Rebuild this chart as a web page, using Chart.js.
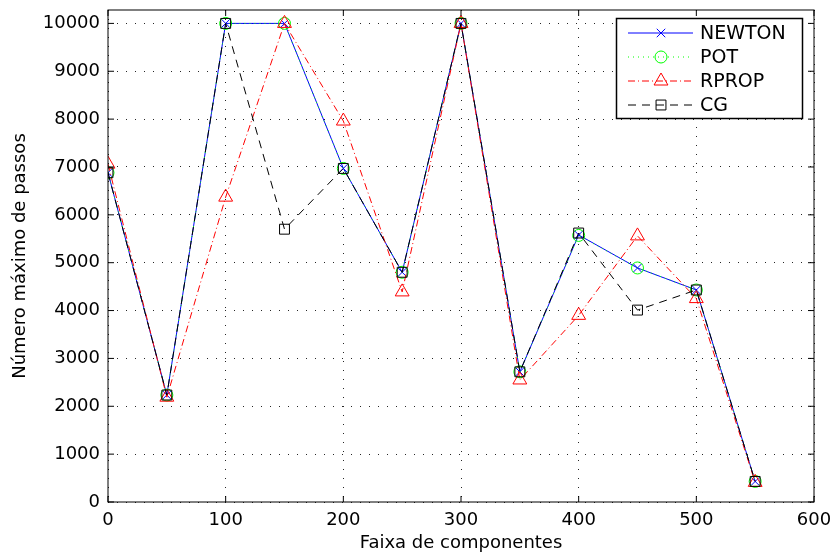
<!DOCTYPE html>
<html lang="pt">
<head>
<meta charset="utf-8">
<title>Número máximo de passos</title>
<script src="https://cdn.jsdelivr.net/npm/chart.js@4.4.1/dist/chart.umd.min.js"></script>
<style>
  html, body { margin: 0; padding: 0; background: #fff; }
</style>
</head>
<body>
<canvas class="js-steps-chart" width="834" height="556"></canvas>
<script>
// グラフのデータ
const xValues = [0, 50, 100, 150, 200, 250, 300, 350, 400, 450, 500, 550];
const newtonValues = [6880, 2235, 10000, 10000, 6970, 4800, 10000, 2720, 5580, 4890, 4430, 430];
const potValues = [6880, 2235, 10000, 10000, 6970, 4800, 10000, 2720, 5570, 4890, 4430, 430];
const rpropValues = [7060, 2190, 6370, 10000, 7960, 4390, 10000, 2550, 3900, 5560, 4250, 410];
const cgValues = [6880, 2235, 10000, 5700, 6970, 4800, 10000, 2720, 5620, 4010, 4430, 430];
const seriesLabels = ["NEWTON", "POT", "RPROP", "CG"];
const xTicks = [0, 100, 200, 300, 400, 500, 600];
const yTicks = [0, 1000, 2000, 3000, 4000, 5000, 6000, 7000, 8000, 9000, 10000];

window.addEventListener("DOMContentLoaded", () => {
  const FONT = "'DejaVu Sans', 'Liberation Sans', sans-serif";
  const toPoints = (values) => values.map((y, i) => ({ x: xValues[i], y }));

  // 枠線と内向きの目盛り (MATLAB風)
  const axesBox = {
    id: "axesBox",
    afterDatasetsDraw(chart) {
      const { ctx, chartArea, scales } = chart;
      const { left, right, top, bottom } = chartArea;
      ctx.save();
      ctx.strokeStyle = "#000";
      ctx.lineWidth = 1;
      ctx.setLineDash([]);
      ctx.strokeRect(left, top, right - left, bottom - top);
      ctx.beginPath();
      xTicks.forEach((v) => {
        const x = scales.x.getPixelForValue(v);
        ctx.moveTo(x, bottom);
        ctx.lineTo(x, bottom - 6);
        ctx.moveTo(x, top);
        ctx.lineTo(x, top + 6);
      });
      yTicks.forEach((v) => {
        const y = scales.y.getPixelForValue(v);
        ctx.moveTo(left, y);
        ctx.lineTo(left + 6, y);
        ctx.moveTo(right, y);
        ctx.lineTo(right - 6, y);
      });
      ctx.stroke();
      ctx.restore();
    },
  };

  // 凡例 (線とマーカー付きの枠)
  const legendBox = {
    id: "legendBox",
    afterDraw(chart) {
      const { ctx, chartArea } = chart;
      const w = 186;
      const h = 100;
      const left = Math.round(chartArea.right - 12 - w);
      const top = Math.round(chartArea.top + 8);
      ctx.save();
      ctx.fillStyle = "#fff";
      ctx.fillRect(left, top, w, h);
      ctx.strokeStyle = "#000";
      ctx.lineWidth = 1.5;
      ctx.strokeRect(left + 0.5, top + 0.5, w, h);

      chart.data.datasets.forEach((ds, i) => {
        const y = top + 15 + i * 24;
        ctx.lineWidth = 1;
        ctx.strokeStyle = ds.borderColor;
        ctx.setLineDash(ds.borderDash || []);
        ctx.beginPath();
        ctx.moveTo(left + 12, y);
        ctx.lineTo(left + 77, y);
        ctx.stroke();
        ctx.setLineDash([]);

        if (Chart.helpers && Chart.helpers.drawPoint) {
          ctx.fillStyle = "rgba(0,0,0,0)";
          ctx.strokeStyle = ds.pointBorderColor;
          Chart.helpers.drawPoint(ctx, { pointStyle: ds.pointStyle, radius: ds.pointRadius, borderWidth: 1, rotation: 0 }, left + 45, y);
        }

        ctx.fillStyle = "#000";
        ctx.font = `19px ${FONT}`;
        ctx.textBaseline = "middle";
        ctx.textAlign = "left";
        ctx.fillText(ds.label, left + 84, y + 1);
      });
      ctx.restore();
    },
  };

  const makeDataset = (label, values, color, dash, pointStyle, radius, order) => ({
    label,
    data: toPoints(values),
    borderColor: color,
    borderWidth: 1,
    borderDash: dash,
    pointStyle,
    pointRadius: radius,
    pointHoverRadius: radius,
    pointBorderColor: color,
    pointBackgroundColor: "rgba(0,0,0,0)",
    pointBorderWidth: 1,
    tension: 0,
    order,
  });

  const ctx = document.querySelector(".js-steps-chart").getContext("2d");

  new Chart(ctx, {
    type: "line",
    data: {
      datasets: [
        makeDataset(seriesLabels[0], newtonValues, "#0000ff", [], "crossRot", 6, 3),
        makeDataset(seriesLabels[1], potValues, "#00ff00", [1, 4], "circle", 6, 2),
        makeDataset(seriesLabels[2], rpropValues, "#ff0000", [7, 3, 1, 3], "triangle", 8, 1),
        makeDataset(seriesLabels[3], cgValues, "#000000", [8, 6], "rect", 7, 0),
      ],
    },
    options: {
      responsive: false,
      animation: false,
      devicePixelRatio: 1,
      layout: { padding: { left: 0, right: 20, top: 10, bottom: 0 } },
      plugins: {
        legend: { display: false },
        tooltip: { enabled: false },
      },
      scales: {
        x: {
          type: "linear",
          min: 0,
          max: 600,
          afterBuildTicks: (axis) => {
            axis.ticks = xTicks.map((value) => ({ value }));
          },
          afterFit: (scale) => {
            scale.height = 54;
            scale.paddingLeft = 0;
            scale.paddingRight = 0;
          },
          grid: { color: "rgba(0,0,0,0.85)", lineWidth: 1, drawTicks: false },
          border: { display: false, dash: [1, 8] },
          ticks: {
            color: "#000",
            font: { family: FONT, size: 18 },
            padding: 8,
            maxRotation: 0,
            autoSkip: false,
            callback: (value) => String(value),
          },
          title: {
            display: true,
            text: "Faixa de componentes",
            color: "#000",
            font: { family: FONT, size: 18 },
            padding: { top: 0, bottom: 2 },
          },
        },
        y: {
          type: "linear",
          min: 0,
          max: 10280,
          afterBuildTicks: (axis) => {
            axis.ticks = yTicks.map((value) => ({ value }));
          },
          afterFit: (scale) => {
            scale.width = 108;
            scale.paddingTop = 0;
            scale.paddingBottom = 0;
          },
          grid: { color: "rgba(0,0,0,0.85)", lineWidth: 1, drawTicks: false },
          border: { display: false, dash: [1, 8] },
          ticks: {
            color: "#000",
            font: { family: FONT, size: 18 },
            padding: 8,
            autoSkip: false,
            callback: (value) => String(value),
          },
          title: {
            display: true,
            text: "Número máximo de passos",
            color: "#000",
            font: { family: FONT, size: 18 },
            padding: { top: 10, bottom: 0 },
          },
        },
      },
    },
    plugins: [axesBox, legendBox],
  });
});
</script>
</body>
</html>
